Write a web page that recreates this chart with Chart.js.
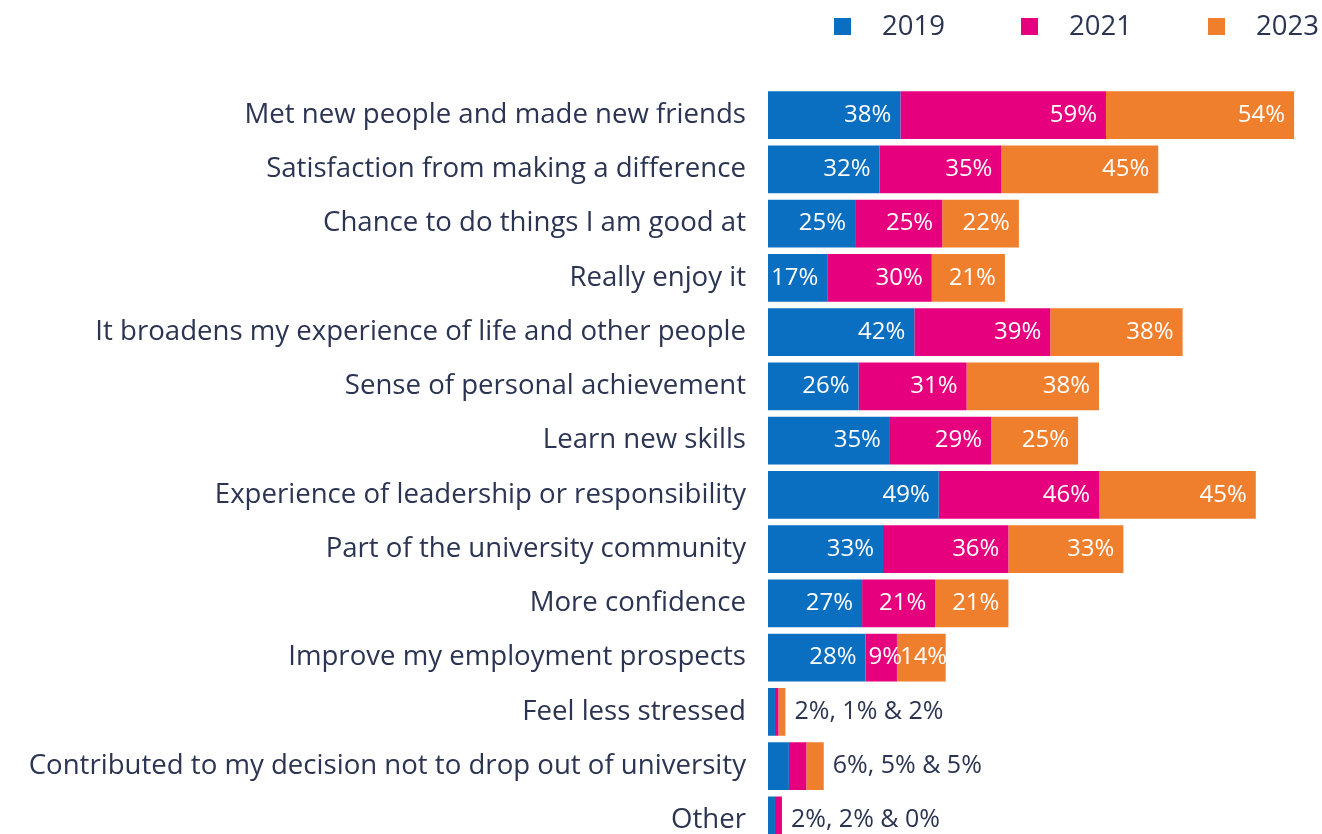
<!DOCTYPE html>
<html>
<head>
<meta charset="utf-8">
<script src="https://cdn.jsdelivr.net/npm/chart.js@4.4.0/dist/chart.umd.min.js"></script>
<style>
  html, body { margin: 0; padding: 0; background: #fff; overflow: hidden; }
  #wrap { width: 1322px; height: 878px; }
</style>
</head>
<body>
<div id="wrap"><canvas id="chart"></canvas></div>
<script>
const categories = [
  'Met new people and made new friends',
  'Satisfaction from making a difference',
  'Chance to do things I am good at',
  'Really enjoy it',
  'It broadens my experience of life and other people',
  'Sense of personal achievement',
  'Learn new skills',
  'Experience of leadership or responsibility',
  'Part of the university community',
  'More confidence',
  'Improve my employment prospects',
  'Feel less stressed',
  'Contributed to my decision not to drop out of university',
  'Other'
];
const years = ['2019', '2021', '2023'];
const values2019 = [38, 32, 25, 17, 42, 26, 35, 49, 33, 27, 28, 2, 6, 2];
const values2021 = [59, 35, 25, 30, 39, 31, 29, 46, 36, 21, 9, 1, 5, 2];
const values2023 = [54, 45, 22, 21, 38, 38, 25, 45, 33, 21, 14, 2, 5, 0];
const colors = ['#0b6fc1', '#e6007e', '#f07f2d'];

const textColor = '#2b3452';
const fontFamily = '"Open Sans", "Noto Sans", sans-serif';

// white labels inside the segments, one combined dark label for the tiny bars
const segmentLabels = {
  id: 'segmentLabels',
  afterDatasetsDraw(chart) {
    const ctx = chart.ctx;
    ctx.save();
    ctx.textBaseline = 'middle';
    const n = chart.data.labels.length;
    for (let i = 0; i < n; i++) {
      const vals = chart.data.datasets.map(d => d.data[i]);
      const total = vals.reduce((a, b) => a + b, 0);
      const metas = chart.data.datasets.map((d, k) => chart.getDatasetMeta(k));
      if (total < 20) {
        const last = metas[metas.length - 1].data[i];
        ctx.font = '25px ' + fontFamily;
        ctx.fillStyle = textColor;
        ctx.textAlign = 'left';
        ctx.fillText(vals[0] + '%, ' + vals[1] + '% & ' + vals[2] + '%', last.x + 9, last.y);
        continue;
      }
      ctx.font = '24px ' + fontFamily;
      metas.forEach((meta, k) => {
        const bar = meta.data[i];
        const txt = vals[k] + '%';
        const w = ctx.measureText(txt).width;
        const segW = bar.x - bar.base;
        ctx.fillStyle = '#ffffff';
        if (w + 14 > segW) {
          ctx.textAlign = 'left';
          ctx.fillText(txt, bar.base + 3, bar.y);
        } else {
          ctx.textAlign = 'right';
          ctx.fillText(txt, bar.x - 9, bar.y);
        }
      });
    }
    ctx.restore();
  }
};

// legend drawn by hand: square, wide gap, year
const topLegend = {
  id: 'topLegend',
  afterDraw(chart) {
    const ctx = chart.ctx;
    ctx.save();
    ctx.font = '27.5px ' + fontFamily;
    ctx.textBaseline = 'middle';
    ctx.textAlign = 'left';
    const startX = [834, 1021, 1208];
    chart.data.datasets.forEach((ds, k) => {
      ctx.fillStyle = ds.backgroundColor;
      ctx.fillRect(startX[k], 18, 17, 17);
      ctx.fillStyle = textColor;
      ctx.fillText(ds.label, startX[k] + 48, 27);
    });
    ctx.restore();
  }
};

new Chart(document.getElementById('chart'), {
  type: 'bar',
  data: {
    labels: categories,
    datasets: [
      { label: years[0], data: values2019, backgroundColor: colors[0] },
      { label: years[1], data: values2021, backgroundColor: colors[1] },
      { label: years[2], data: values2023, backgroundColor: colors[2] }
    ]
  },
  options: {
    indexAxis: 'y',
    responsive: true,
    maintainAspectRatio: false,
    animation: false,
    datasets: {
      bar: { barPercentage: 0.88, categoryPercentage: 1, borderWidth: 0 }
    },
    layout: { padding: { top: 88, right: 0, bottom: 0, left: 0 } },
    scales: {
      x: {
        stacked: true,
        min: 0,
        max: 159,
        display: false
      },
      y: {
        stacked: true,
        grid: { display: false },
        border: { display: false },
        ticks: {
          color: textColor,
          padding: 14,
          font: { family: fontFamily, size: 27.6 }
        },
        afterFit(scale) { scale.width = 768; }
      }
    },
    plugins: {
      legend: { display: false },
      tooltip: { enabled: false }
    }
  },
  plugins: [segmentLabels, topLegend]
});
</script>
</body>
</html>
